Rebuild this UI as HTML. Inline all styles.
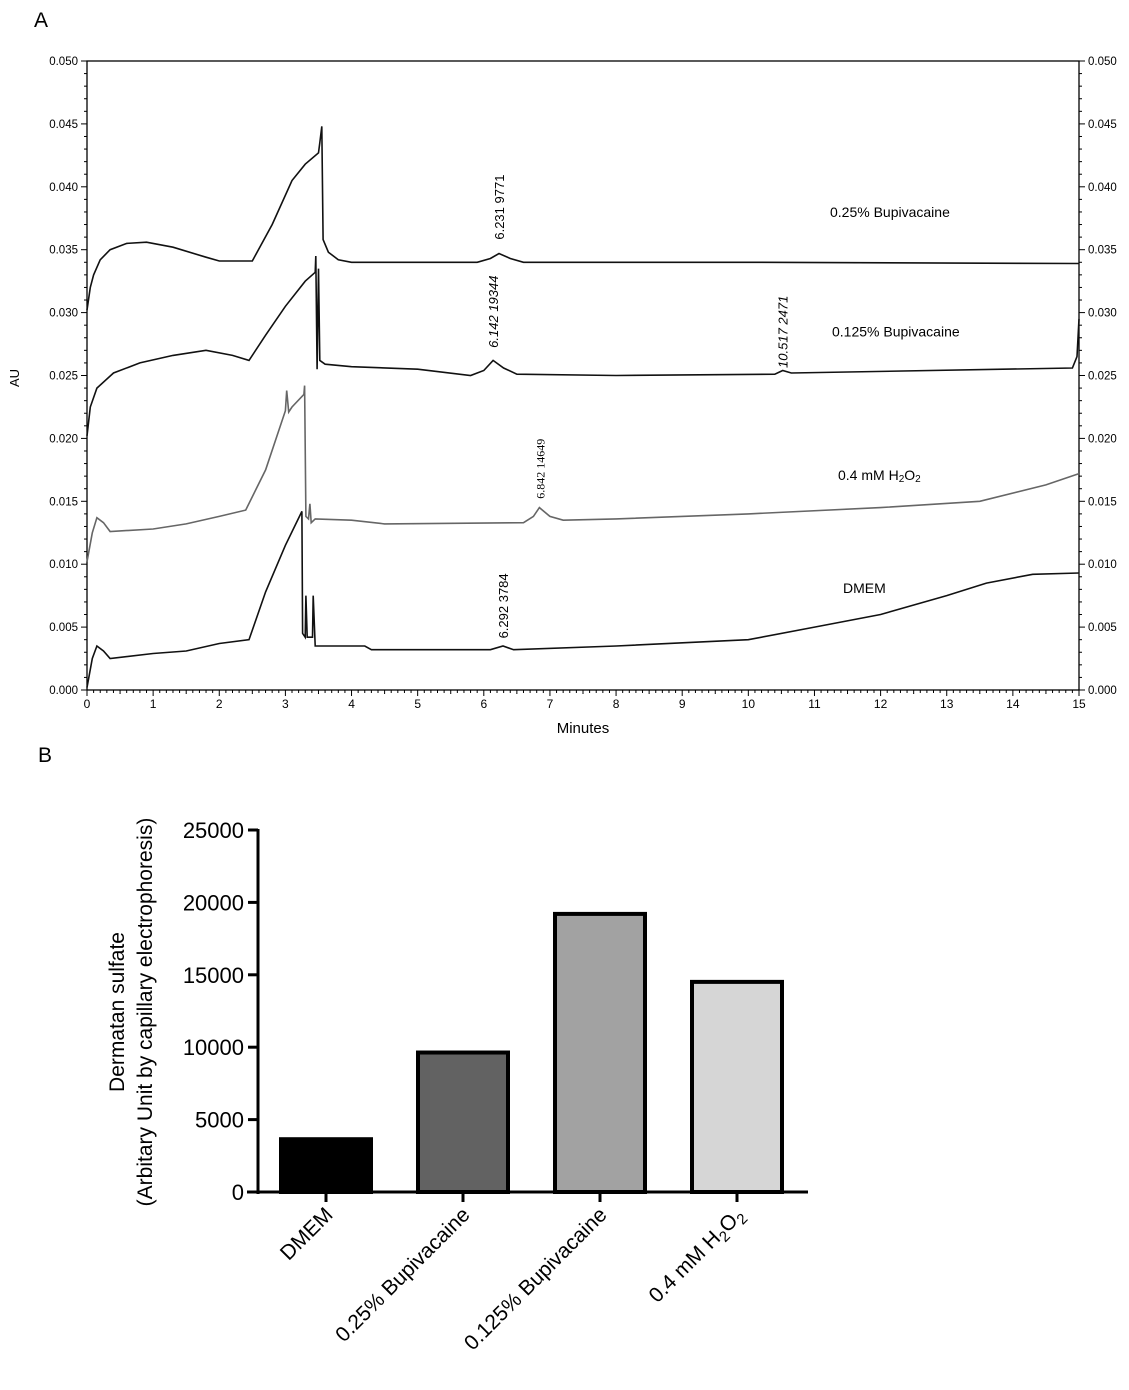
<!DOCTYPE html>
<html><head><meta charset="utf-8"><style>
body{margin:0;background:#fff;}
svg{display:block;font-family:"Liberation Sans",Arial,sans-serif;}
</style></head><body>
<svg id="svg" width="1129" height="1390" viewBox="0 0 1129 1390" xmlns="http://www.w3.org/2000/svg">
<text x="34" y="27" font-size="21">A</text>
<text x="38" y="762" font-size="21">B</text>
<g id="chartA"></g>
<g id="chartB"></g>
</svg>
<script>
// ---- Panel A data ----
const aYTicks = [0.000,0.005,0.010,0.015,0.020,0.025,0.030,0.035,0.040,0.045,0.050];
const aXTicks = [0,1,2,3,4,5,6,7,8,9,10,11,12,13,14,15];
const traceBup025 = [[0,0.0302],[0.05,0.032],[0.1,0.033],[0.2,0.0342],[0.35,0.0350],[0.6,0.0355],[0.9,0.0356],[1.3,0.0352],[1.8,0.0344],[2.0,0.0341],[2.5,0.0341],[2.8,0.037],[3.1,0.0405],[3.3,0.0418],[3.5,0.0427],[3.52,0.0435],[3.55,0.0448],[3.57,0.0358],[3.65,0.0348],[3.8,0.0342],[4,0.034],[5.9,0.034],[6.1,0.0343],[6.23,0.0347],[6.4,0.0343],[6.6,0.034],[10,0.034],[15,0.0339]];
const traceBup0125 = [[0,0.0202],[0.05,0.0225],[0.15,0.024],[0.4,0.0252],[0.8,0.026],[1.3,0.0266],[1.8,0.027],[2.2,0.0266],[2.45,0.0262],[2.7,0.0282],[3.0,0.0305],[3.3,0.0325],[3.45,0.0332],[3.46,0.0345],[3.48,0.0255],[3.5,0.0335],[3.52,0.0262],[3.6,0.0259],[4,0.0257],[5.0,0.0255],[5.8,0.025],[6.0,0.0254],[6.14,0.0262],[6.3,0.0256],[6.5,0.0251],[8,0.025],[10.4,0.0251],[10.52,0.0254],[10.65,0.0252],[14.9,0.0256],[14.97,0.0265],[15,0.0295]];
const traceH2O2 = [[0,0.0102],[0.08,0.0125],[0.15,0.0137],[0.25,0.0133],[0.35,0.0126],[1,0.0128],[1.5,0.0132],[2.0,0.0138],[2.4,0.0143],[2.7,0.0175],[3.0,0.0222],[3.02,0.0238],[3.05,0.0221],[3.1,0.0225],[3.28,0.0235],[3.29,0.0242],[3.31,0.0138],[3.35,0.0136],[3.37,0.0148],[3.39,0.0133],[3.45,0.0136],[4.0,0.0135],[4.5,0.0132],[6.6,0.0133],[6.75,0.0138],[6.84,0.0145],[7.0,0.0138],[7.2,0.0135],[8,0.0136],[10,0.014],[12,0.0145],[13.5,0.015],[14.5,0.0163],[15,0.0172]];
const traceDMEM = [[0,0.0002],[0.08,0.0025],[0.15,0.0035],[0.25,0.0031],[0.35,0.0025],[1,0.0029],[1.5,0.0031],[2.0,0.0037],[2.45,0.004],[2.7,0.0078],[3.0,0.0115],[3.25,0.0142],[3.26,0.0045],[3.3,0.0042],[3.31,0.0075],[3.33,0.0042],[3.41,0.0042],[3.42,0.0075],[3.45,0.0035],[4.2,0.0035],[4.3,0.0032],[6.1,0.0032],[6.29,0.0035],[6.45,0.0032],[8,0.0035],[10,0.004],[11,0.005],[12,0.006],[13,0.0075],[13.6,0.0085],[14.3,0.0092],[15,0.0093]];
const peakLabels = [["6.231  9771",6.23,0.0358,"normal"],["6.142  19344",6.14,0.0272,"italic"],["10.517  2471",10.52,0.0256,"italic"],["6.842  14649",6.84,0.0152,"serif"],["6.292  3784",6.29,0.0041,"normal"]];
const traceNames = ["0.25% Bupivacaine","0.125% Bupivacaine","0.4 mM H2O2","DMEM"];

// ---- Panel B data ----
const bCats = ["DMEM","0.25% Bupivacaine","0.125% Bupivacaine","0.4 mM H2O2"];
const bVals = [3784,9771,19344,14649];
const bYTicks = [0,5000,10000,15000,20000,25000];
const bFill = ["#000000","#626262","#a2a2a2","#d6d6d6"];

const NS="http://www.w3.org/2000/svg";
function mk(tag,attrs,parent,txt){const e=document.createElementNS(NS,tag);for(const k in attrs)e.setAttribute(k,attrs[k]);if(txt!==undefined)e.textContent=txt;parent.appendChild(e);return e;}

// Panel A
const A=document.getElementById('chartA');
const L=87,R=1079,T=61,B=690;
const ax=t=>L+(R-L)*t/15;
const ay=v=>B-(B-T)*v/0.05;
let f=mk('rect',{x:L,y:T,width:R-L,height:B-T,fill:'none',stroke:'#000','stroke-width':1.3},A);

for(let i=0;i<=50;i++){const v=i*0.001,len=(i%5==0)?6:3;
 mk('line',{x1:L,x2:L-len,y1:ay(v),y2:ay(v),stroke:'#000'},A);
 mk('line',{x1:R,x2:R+len,y1:ay(v),y2:ay(v),stroke:'#000'},A);}
aYTicks.forEach(v=>{
 let t=mk('text',{x:L-9,y:ay(v)+4,'font-size':11.5,'text-anchor':'end'},A,v.toFixed(3));
 
 let t2=mk('text',{x:R+9,y:ay(v)+4,'font-size':11.5},A,v.toFixed(3));
 
});
for(let i=0;i<=150;i++){const t=i*0.1,len=(i%10==0)?6:(i%5==0?4:3);
 mk('line',{x1:ax(t),x2:ax(t),y1:B,y2:B+len,stroke:'#000'},A);}
aXTicks.forEach(v=>{let t=mk('text',{x:ax(v),y:B+18,'font-size':12,'text-anchor':'middle'},A,String(v));
 });
let xt=mk('text',{x:583,y:733,'font-size':15,'text-anchor':'middle'},A,'Minutes');

let yt=mk('text',{x:0,y:0,'font-size':13,'text-anchor':'middle',transform:'translate(19,378) rotate(-90)'},A,'AU');

const traces=[[traceBup025,'#111'],[traceBup0125,'#111'],[traceH2O2,'#666'],[traceDMEM,'#111']];
const tnames=['trace-bupivacaine-025','trace-bupivacaine-0125','trace-h2o2','trace-dmem'];
traces.forEach((tr,i)=>{
 const d=tr[0].map((p,j)=>(j?'L':'M')+ax(p[0]).toFixed(1)+','+ay(p[1]).toFixed(1)).join('');
 let p=mk('path',{d:d,fill:'none',stroke:tr[1],'stroke-width':1.6},A);
 
});
const nameY=[0.0376,0.0281,0.0167,0.0077];
traceNames.forEach((n,i)=>{
 let t;
 if(n.indexOf('H2O2')>=0){t=mk('text',{x:838,y:ay(nameY[i]),'font-size':14},A);
  t.innerHTML='0.4 mM H<tspan font-size="10" dy="2">2</tspan><tspan dy="-2">O</tspan><tspan font-size="10" dy="2">2</tspan>';}
 else t=mk('text',{x:[830,832,0,843][i],y:ay(nameY[i]),'font-size':14},A,n);
 
});
peakLabels.forEach(pl=>{
 const x=ax(pl[1])+5,y=ay(pl[2]);
 const attrs={x:0,y:0,'font-size':13,transform:`translate(${x},${y}) rotate(-90)`};
 if(pl[3]=='italic')attrs['font-style']='italic';
 if(pl[3]=='serif'){attrs['font-family']='"Liberation Serif",serif';attrs['font-size']=12;}
 let t=mk('text',attrs,A,pl[0]);
 
});

// Panel B
const Bg=document.getElementById('chartB');
const bL=258,bR=808,bT=830,bB=1192,bMax=25000;
const by=v=>bB-(bB-bT)*v/bMax;
const step=137,first=326,bw=94;
const bx=i=>first+i*step;
bVals.forEach((v,i)=>{
 let r=mk('rect',{x:bx(i)-bw/2+2,y:by(v)+2,width:bw-4,height:bB-by(v)-2,fill:bFill[i],stroke:'#000','stroke-width':4},Bg);
 
});
let ya=mk('line',{x1:bL,x2:bL,y1:bT-1,y2:bB+2,stroke:'#000','stroke-width':3},Bg);

let xa=mk('line',{x1:bL-11,x2:bR,y1:bB,y2:bB,stroke:'#000','stroke-width':3},Bg);

bYTicks.forEach(v=>{
 mk('line',{x1:bL-10,x2:bL,y1:by(v),y2:by(v),stroke:'#000','stroke-width':3},Bg);
 let t=mk('text',{x:bL-14,y:by(v)+8,'font-size':22,'text-anchor':'end'},Bg,String(v));
 
});
bCats.forEach((c,i)=>{
 mk('line',{x1:bx(i),x2:bx(i),y1:bB,y2:bB+10,stroke:'#000','stroke-width':3},Bg);
 let t=mk('text',{x:0,y:0,'font-size':21,'text-anchor':'end',transform:`translate(${bx(i)+8},${bB+24}) rotate(-45)`},Bg);
 if(c.indexOf('H2O2')>=0)t.innerHTML='0.4 mM H<tspan font-size="15" dy="5">2</tspan><tspan dy="-5">O</tspan><tspan font-size="15" dy="5">2</tspan>';
 else t.textContent=c;
 
});
let bt=mk('text',{x:0,y:0,'font-size':21,'text-anchor':'middle',transform:'translate(124,1012) rotate(-90)'},Bg,'Dermatan sulfate');

let bt2=mk('text',{x:0,y:0,'font-size':21,'text-anchor':'middle',transform:'translate(152,1012) rotate(-90)'},Bg,'(Arbitary Unit by capillary electrophoresis)');

</script>
</body></html>
